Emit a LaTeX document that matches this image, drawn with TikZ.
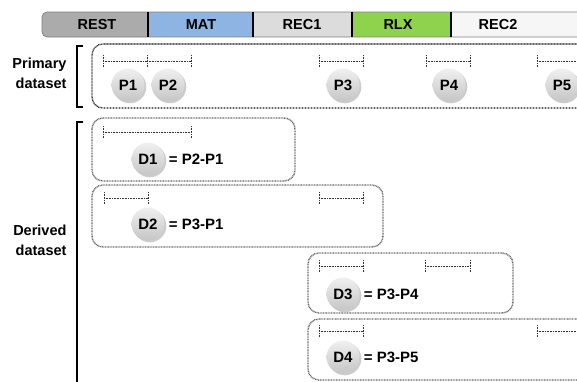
\documentclass[tikz,border=0pt]{standalone}
\usepackage{fontspec}
\setmainfont{Liberation Sans}
\usetikzlibrary{shadows}
\definecolor{restc}{HTML}{ABABAB}
\definecolor{matc}{HTML}{8DB4E2}
\definecolor{recc}{HTML}{DCDCDC}
\definecolor{rlxc}{HTML}{8ED24E}
\definecolor{rectwo}{HTML}{F6F6F6}
\tikzset{
  seglabel/.style={font=\bfseries\fontsize{14.5}{16}\selectfont},
  divider/.style={line width=1.3pt, black},
  primbox/.style={draw=black!90, line width=1.3pt, dash pattern=on 0.8pt off 0.7pt, rounded corners=11},
  derbox/.style={draw=black!60, line width=1.4pt, dash pattern=on 0.9pt off 0.7pt, rounded corners=11},
  ivl/.style={draw=black!80, line width=0.9pt, dash pattern=on 1pt off 0.6pt},
  ball/.style={circle, minimum size=33pt, inner sep=0pt, top color=gray!12, bottom color=gray!45,
    drop shadow={opacity=0.4, shadow xshift=1.8pt, shadow yshift=-1.8pt},
    font=\bfseries\fontsize{15}{17}\selectfont},
  eqlabel/.style={anchor=west, inner sep=0pt, font=\bfseries\fontsize{15}{17}\selectfont},
  sidelabel/.style={anchor=east, align=right, font=\bfseries\fontsize{14.5}{20}\selectfont},
  bracket/.style={line width=1.3pt, black}
}
\newcommand{\interval}[3]{%
  \draw[ivl] (#1,#3) -- (#2,#3);
  \draw[ivl] (#1,#3-6) -- (#1,#3+6);
  \draw[ivl] (#2,#3-6) -- (#2,#3+6);
}
\begin{document}
\begin{tikzpicture}[x=1pt,y=-1pt]
\useasboundingbox (0,0) rectangle (577,381);
\clip (0,0) rectangle (577,381);
% top bar
\fill[restc, rounded corners=5] (148,12) -- (42,12) -- (42,37) -- (148,37);
\fill[matc] (148,12) rectangle (253,37);
\fill[recc] (253,12) rectangle (352,37);
\fill[rlxc] (352,12) rectangle (451,37);
\fill[rectwo] (451,12) rectangle (590,37);
\draw[black!50, line width=0.7pt, rounded corners=5] (590,12) -- (42,12) -- (42,37) -- (590,37);
\draw[divider] (148,12) -- (148,37);
\draw[divider] (253,12) -- (253,37);
\draw[divider] (352,12) -- (352,37);
\draw[divider] (451,12) -- (451,37);
\node[seglabel] (rest) at (97,24.5) {REST};
\node[seglabel] (mat) at (201,24.5) {MAT};
\node[seglabel] (rec1) at (302,24.5) {REC1};
\node[seglabel] (rlx) at (398,24.5) {RLX};
\node[seglabel] (rec2) at (498,24.5) {REC2};
% brackets and side labels
\draw[bracket] (83,46) -- (77,46) -- (77,107) -- (83,107);
\draw[bracket] (83,122) -- (77,122) -- (77,385);
\node[sidelabel] (prim) at (70,73) {Primary\\dataset};
\node[sidelabel] (deriv) at (70,240) {Derived\\dataset};
% primary dataset
\draw[primbox] (600,44) -- (92,44) -- (92,108) -- (600,108);
\interval{103}{147}{61}
\interval{147}{191}{61}
\interval{319}{363}{61}
\interval{426}{470}{61}
\interval{537}{581}{61}
\node[ball] (p1) at (128,85) {P1};
\node[ball] (p2) at (168,85) {P2};
\node[ball] (p3) at (343,85) {P3};
\node[ball] (p4) at (449,85) {P4};
\node[ball] (p5) at (562,85) {P5};
% derived dataset
\draw[derbox] (92,118) rectangle (295,181);
\interval{103}{191}{132}
\node[ball] (d1) at (148,159) {D1};
\node[eqlabel] (e1) at ([xshift=4pt]d1.east) {= P2-P1};
\draw[derbox] (92,185) rectangle (383,247);
\interval{104}{148}{198}
\interval{319}{363}{198}
\node[ball] (d2) at (148,224) {D2};
\node[eqlabel] (e2) at ([xshift=4pt]d2.east) {= P3-P1};
\draw[derbox] (308,253) rectangle (513,313);
\interval{319}{363}{266}
\interval{425}{470}{266}
\node[ball] (d3) at (343,294) {D3};
\node[eqlabel] (e3) at ([xshift=4pt]d3.east) {= P3-P4};
\draw[derbox] (600,319) -- (308,319) -- (308,380) -- (600,380);
\interval{319}{363}{331}
\interval{537}{581}{331}
\node[ball] (d4) at (343,357) {D4};
\node[eqlabel] (e4) at ([xshift=4pt]d4.east) {= P3-P5};
\end{tikzpicture}
\end{document}
